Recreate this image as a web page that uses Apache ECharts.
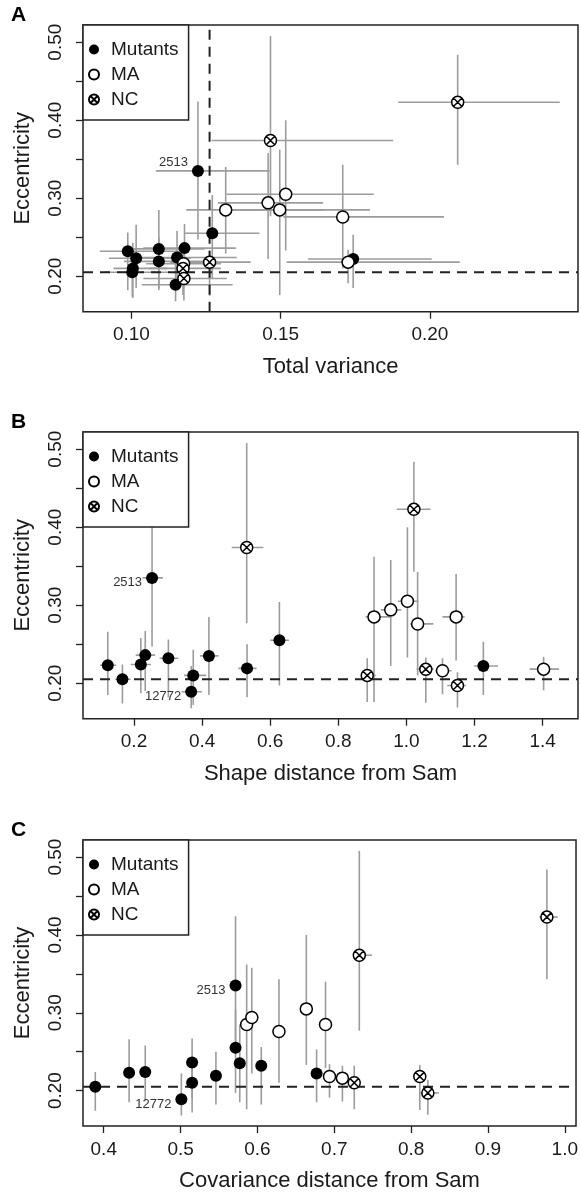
<!DOCTYPE html>
<html>
<head>
<meta charset="utf-8">
<script src="https://cdn.jsdelivr.net/npm/echarts@6/dist/echarts.min.js"></script>
<style>
  html, body { margin: 0; padding: 0; background: #fff; }
  #chart { width: 581px; height: 1193px; }
</style>
</head>
<body>
<div id="chart"></div>
<script>
// ---------- DATA ----------
// Eccentricity (shared y values) with interval bounds
const mutEcc   = [0.223, 0.205, 0.224, 0.236, 0.335, 0.232, 0.189, 0.210, 0.235, 0.219, 0.255, 0.222];
const mutEccLo = [0.185, 0.174, 0.187, 0.190, 0.247, 0.182, 0.168, 0.172, 0.185, 0.182, 0.197, 0.185];
const mutEccHi = [0.266, 0.224, 0.258, 0.267, 0.424, 0.256, 0.222, 0.243, 0.285, 0.250, 0.304, 0.253];
const maEcc    = [0.285, 0.294, 0.305, 0.276, 0.216, 0.285, 0.218];
const maEccLo  = [0.176, 0.222, 0.233, 0.210, 0.186, 0.229, 0.191];
const maEccHi  = [0.362, 0.358, 0.400, 0.343, 0.232, 0.340, 0.234];
const ncEcc    = [0.374, 0.423, 0.210, 0.218, 0.197];
const ncEccLo  = [0.277, 0.343, 0.176, 0.175, 0.169];
const ncEccHi  = [0.508, 0.484, 0.232, 0.233, 0.214];

// Panel A: total variance
const mutA   = [0.1016, 0.1003, 0.1153, 0.1178, 0.1223, 0.0988, 0.1148, 0.1005, 0.1092, 0.1092, 0.1271, 0.1743];
const mutALo = [0.0925, 0.0910, 0.1010, 0.1040, 0.1082, 0.0894, 0.1035, 0.0940, 0.0990, 0.0975, 0.1178, 0.1592];
const mutAHi = [0.1200, 0.1130, 0.1353, 0.1350, 0.1463, 0.1180, 0.1339, 0.1120, 0.1245, 0.1240, 0.1429, 0.2006];
const maA    = [0.1497, 0.1458, 0.1517, 0.1708, 0.1175, 0.1316, 0.1726];
const maALo  = [0.1300, 0.1290, 0.1319, 0.1509, 0.1050, 0.1184, 0.1520];
const maAHi  = [0.1799, 0.1642, 0.1812, 0.2047, 0.1300, 0.1645, 0.2100];
const ncA    = [0.1466, 0.2093, 0.1173, 0.1262, 0.1176];
const ncALo  = [0.1269, 0.1894, 0.1060, 0.1130, 0.1040];
const ncAHi  = [0.1877, 0.2435, 0.1300, 0.1400, 0.1320];

// Panel B: shape distance from Sam
const mutB   = [0.123, 0.166, 0.220, 0.233, 0.253, 0.301, 0.368, 0.374, 0.420, 0.532, 0.627, 1.226];
const mutBLo = [0.100, 0.145, 0.190, 0.205, 0.225, 0.275, 0.340, 0.347, 0.394, 0.506, 0.600, 1.199];
const mutBHi = [0.148, 0.190, 0.250, 0.262, 0.285, 0.330, 0.400, 0.412, 0.448, 0.560, 0.655, 1.269];
const maB    = [0.905, 0.954, 1.003, 1.033, 1.106, 1.146, 1.403];
const maBLo  = [0.880, 0.925, 0.975, 1.011, 1.085, 1.106, 1.362];
const maBHi  = [0.956, 0.985, 1.035, 1.079, 1.133, 1.171, 1.448];
const ncB    = [0.531, 1.022, 0.885, 1.057, 1.150];
const ncBLo  = [0.487, 0.972, 0.870, 1.030, 1.120];
const ncBHi  = [0.580, 1.071, 0.910, 1.080, 1.175];

// Panel C: covariance distance from Sam
const mutC   = [0.433, 0.389, 0.454, 0.515, 0.5715, 0.605, 0.501, 0.515, 0.577, 0.546, 0.5715, 0.677];
const mutCLo = [0.428, 0.384, 0.449, 0.510, 0.566, 0.599, 0.495, 0.509, 0.571, 0.541, 0.566, 0.671];
const mutCHi = [0.438, 0.394, 0.459, 0.520, 0.577, 0.611, 0.507, 0.521, 0.583, 0.551, 0.577, 0.683];
const maC    = [0.586, 0.5927, 0.6636, 0.628, 0.7106, 0.6886, 0.6938];
const maCLo  = [0.580, 0.587, 0.657, 0.622, 0.704, 0.681, 0.688];
const maCHi  = [0.592, 0.598, 0.670, 0.634, 0.717, 0.695, 0.700];
const ncC    = [0.7326, 0.9767, 0.726, 0.8113, 0.8218];
const ncCLo  = [0.725, 0.967, 0.719, 0.805, 0.812];
const ncCHi  = [0.749, 0.991, 0.733, 0.818, 0.836];

// Reference lines
const refEcc = 0.205;
const refVarA = 0.1262;

// Tick values / labels
const yTicks  = [0.20, 0.25, 0.30, 0.35, 0.40, 0.45, 0.50];
const yLabels = [0.20, 0.30, 0.40, 0.50];
const xTicksA = [0.10, 0.15, 0.20];
const xTicksB = [0.2, 0.4, 0.6, 0.8, 1.0, 1.2, 1.4];
const xTicksC = [0.4, 0.5, 0.6, 0.7, 0.8, 0.9, 1.0];

// Annotated lines: [index in mutants, text]
const annot = [[4, '2513'], [6, '12772']];

const categories = ['Mutants', 'MA', 'NC'];
const panelLetters = ['A', 'B', 'C'];
const xTitles = ['Total variance', 'Shape distance from Sam', 'Covariance distance from Sam'];

// ---------- BUILD ----------
const FONT = 'Liberation Sans, Arial, Helvetica, sans-serif';
const TXT = '#1a1a1a';
const ERR = '#9c9c9c';
const NC_PATH = 'path://M0,10A10,10,0,1,1,20,10A10,10,0,1,1,0,10ZM3,3L17,17M17,3L3,17';

function pack(xs, xlo, xhi, ys, ylo, yhi) {
  return xs.map((x, i) => [x, ys[i], xlo[i], xhi[i], ylo[i], yhi[i]]);
}

const panels = [
  { mut: [mutA, mutALo, mutAHi], ma: [maA, maALo, maAHi], nc: [ncA, ncALo, ncAHi],
    xmin: 0.0838, xmax: 0.2496, ticks: xTicksA, dec: 2, top: 25, labelsShown: ['2513'], lblOffset: [0, -8] },
  { mut: [mutB, mutBLo, mutBHi], ma: [maB, maBLo, maBHi], nc: [ncB, ncBLo, ncBHi],
    xmin: 0.0502, xmax: 1.504, ticks: xTicksB, dec: 1, top: 432, labelsShown: ['2513', '12772'], lblOffset: [0, 5] },
  { mut: [mutC, mutCLo, mutCHi], ma: [maC, maCLo, maCHi], nc: [ncC, ncCLo, ncCHi],
    xmin: 0.373, xmax: 1.0146, ticks: xTicksC, dec: 1, top: 840, labelsShown: ['2513', '12772'], lblOffset: [0, 5] }
];

const GRID_H = 286.7;
const grids = [], xAxes = [], yAxes = [], series = [], legends = [], graphics = [];

function errRender(params, api) {
  const x = api.value(0), y = api.value(1);
  const a = api.coord([api.value(2), y]), b = api.coord([api.value(3), y]);
  const c = api.coord([x, api.value(4)]), d = api.coord([x, api.value(5)]);
  const style = { stroke: ERR, lineWidth: 1.6 };
  return { type: 'group', children: [
    { type: 'line', shape: { x1: a[0], y1: a[1], x2: b[0], y2: b[1] }, style },
    { type: 'line', shape: { x1: c[0], y1: c[1], x2: d[0], y2: d[1] }, style }
  ]};
}

panels.forEach((p, k) => {
  grids.push({ left: 83, top: p.top, width: 495, height: GRID_H, show: true,
    borderColor: '#222', borderWidth: 1.5, backgroundColor: 'transparent' });
  xAxes.push({
    gridIndex: k, type: 'value', min: p.xmin, max: p.xmax,
    axisLine: { show: false }, splitLine: { show: false },
    axisTick: { show: true, length: 7, customValues: p.ticks, lineStyle: { color: '#222', width: 1.3 } },
    axisLabel: { customValues: p.ticks, formatter: v => v.toFixed(p.dec), fontSize: 19, margin: 14,
      color: TXT, fontFamily: FONT },
    name: xTitles[k], nameLocation: 'middle', nameGap: 44,
    nameTextStyle: { fontSize: 22, color: TXT, fontFamily: FONT }
  });
  yAxes.push({
    gridIndex: k, type: 'value', min: 0.1545, max: 0.522,
    axisLine: { show: false }, splitLine: { show: false },
    axisTick: { show: true, length: 7, customValues: yTicks, lineStyle: { color: '#222', width: 1.3 } },
    axisLabel: { customValues: yLabels, formatter: v => v.toFixed(2), fontSize: 19, margin: 18,
      rotate: 90, color: TXT, fontFamily: FONT },
    name: 'Eccentricity', nameLocation: 'middle', nameGap: 49, nameRotate: 90,
    nameTextStyle: { fontSize: 22, color: TXT, fontFamily: FONT }
  });

  const mutData = pack(p.mut[0], p.mut[1], p.mut[2], mutEcc, mutEccLo, mutEccHi);
  const maData = pack(p.ma[0], p.ma[1], p.ma[2], maEcc, maEccLo, maEccHi);
  const ncData = pack(p.nc[0], p.nc[1], p.nc[2], ncEcc, ncEccLo, ncEccHi);

  series.push({
    type: 'custom', xAxisIndex: k, yAxisIndex: k, renderItem: errRender, clip: true, silent: true, z: 1,
    encode: { x: 0, y: 1 }, data: mutData.concat(maData, ncData)
  });
  // dashed reference lines drawn as line series through the axes
  series.push({
    type: 'line', xAxisIndex: k, yAxisIndex: k, silent: true, symbol: 'none', z: 2,
    lineStyle: { color: '#222', type: [10, 7], width: 2 },
    data: [[p.xmin, refEcc], [p.xmax, refEcc]]
  });
  if (k === 0) {
    series.push({
      type: 'line', xAxisIndex: k, yAxisIndex: k, silent: true, symbol: 'none', z: 2,
      lineStyle: { color: '#222', type: [10, 7], width: 2 },
      data: [[refVarA, 0.1545], [refVarA, 0.522]]
    });
  }

  const mutItems = mutData.map((row, i) => {
    const a = annot.find(t => t[0] === i && p.labelsShown.includes(t[1]));
    const item = { value: row };
    if (a) item.label = { show: true, formatter: a[1], position: 'left', distance: 4, offset: p.lblOffset,
      fontSize: 13, color: '#333', fontFamily: FONT };
    return item;
  });

  series.push({ name: 'Mutants', type: 'scatter', xAxisIndex: k, yAxisIndex: k, z: 3,
    symbol: 'circle', symbolSize: 12, encode: { x: 0, y: 1 },
    itemStyle: { color: '#000', opacity: 1 }, data: mutItems });
  series.push({ name: 'MA', type: 'scatter', xAxisIndex: k, yAxisIndex: k, z: 4,
    symbol: 'circle', symbolSize: 12, encode: { x: 0, y: 1 },
    itemStyle: { color: '#fff', borderColor: '#000', borderWidth: 1.5, opacity: 1 }, data: maData });
  series.push({ name: 'NC', type: 'scatter', xAxisIndex: k, yAxisIndex: k, z: 5,
    symbol: NC_PATH, symbolSize: 12, encode: { x: 0, y: 1 },
    itemStyle: { color: '#fff', borderColor: '#000', borderWidth: 1.5, opacity: 1 }, data: ncData });

  legends.push({
    left: 83, top: p.top, orient: 'vertical', data: categories,
    backgroundColor: '#fff', borderColor: '#222', borderWidth: 1.5,
    padding: [15, 10, 11, 5], itemWidth: 24, itemHeight: 10, itemGap: 6,
    selectedMode: false, z: 10,
    textStyle: { fontSize: 19, color: TXT, fontFamily: FONT, lineHeight: 18 }
  });

  graphics.push({ type: 'text', left: 11, top: p.top - 20,
    style: { text: panelLetters[k], fontSize: 21, fontWeight: 'bold', fill: '#000', fontFamily: FONT } });
});

const chart = echarts.init(document.getElementById('chart'), null, { renderer: 'canvas' });
chart.setOption({
  animation: false,
  backgroundColor: '#fff',
  textStyle: { fontFamily: FONT },
  grid: grids, xAxis: xAxes, yAxis: yAxes, legend: legends, series: series, graphic: graphics
});
</script>
</body>
</html>
